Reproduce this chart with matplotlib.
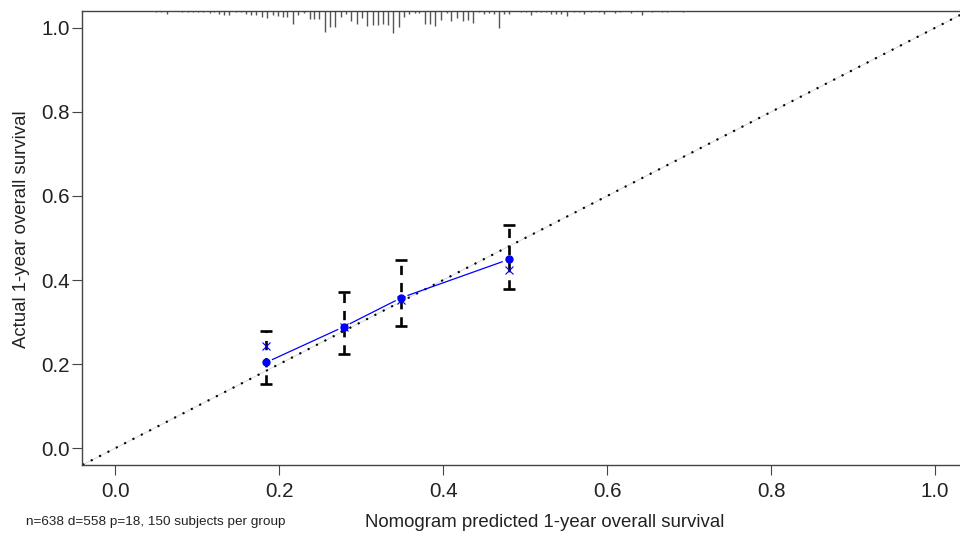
import numpy as np
import matplotlib
matplotlib.use("Agg")
import matplotlib.pyplot as plt

plt.rcParams['font.family'] = ['Liberation Sans', 'DejaVu Sans']

# calibration groups (150 subjects per group)
pred = [0.184, 0.279, 0.349, 0.480]        # mean nomogram predicted survival
observed = [0.204, 0.289, 0.358, 0.449]    # Kaplan-Meier observed survival
corrected = [0.243, 0.289, 0.353, 0.425]   # bias-corrected estimate (x marks)
ci_low = [0.152, 0.225, 0.290, 0.379]
ci_high = [0.279, 0.372, 0.448, 0.531]

# distribution of predicted values (rug at top), relative counts
rug_x = [0.050, 0.056, 0.063, 0.082, 0.089, 0.095, 0.101, 0.107, 0.115, 0.121,
         0.127, 0.133, 0.139, 0.147, 0.153, 0.160, 0.166, 0.172, 0.179, 0.185,
         0.192, 0.198, 0.204, 0.210, 0.217, 0.223, 0.230, 0.237, 0.243, 0.249,
         0.256, 0.262, 0.268, 0.275, 0.281, 0.288, 0.295, 0.301, 0.307, 0.314,
         0.320, 0.327, 0.333, 0.339, 0.346, 0.352, 0.358, 0.365, 0.371, 0.378,
         0.384, 0.390, 0.397, 0.404, 0.410, 0.417, 0.424, 0.430, 0.436, 0.444,
         0.450, 0.456, 0.462, 0.468, 0.474, 0.480, 0.495, 0.501, 0.507, 0.513,
         0.519, 0.525, 0.532, 0.538, 0.544, 0.551, 0.559, 0.566, 0.572, 0.580,
         0.590, 0.596, 0.610, 0.616, 0.629, 0.643, 0.655, 0.667, 0.673, 0.693]
rug_n = [1, 1, 4, 1, 1, 1, 1, 1, 3, 2,
         4, 6, 6, 2, 2, 4, 6, 6, 9, 10,
         6, 7, 8, 9, 18, 6, 3, 12, 12, 12,
         30, 23, 23, 8, 4, 14, 18, 10, 21, 20,
         20, 18, 20, 32, 23, 9, 5, 3, 3, 18,
         18, 21, 13, 3, 14, 10, 14, 13, 17, 2,
         4, 3, 4, 25, 5, 5, 1, 1, 6, 1,
         1, 1, 4, 4, 4, 7, 1, 1, 4, 1,
         1, 5, 3, 1, 3, 6, 1, 1, 2, 1]

ticks = [0.0, 0.2, 0.4, 0.6, 0.8, 1.0]
tick_labels = ["0.0", "0.2", "0.4", "0.6", "0.8", "1.0"]

fig = plt.figure(figsize=(9.6, 5.33), dpi=100)
ax = fig.add_axes([0.0859, 0.1276, 0.9224, 0.8518])
ax.set_xlim(-0.04, 1.04)
ax.set_ylim(-0.04, 1.04)

# ideal line
ax.plot([-0.04, 1.04], [-0.04, 1.04], color="#cccccc", lw=0.5, zorder=1)
ax.plot([-0.04, 1.04], [-0.04, 1.04], color="black", lw=1.5,
        linestyle=(0, (1, 3.5)), zorder=2)

# rug of predicted values hanging from the top
rug_n = np.array(rug_n, dtype=float)
rug_len = rug_n / rug_n.max() * 0.053
ax.vlines(rug_x, 1.04 - rug_len, 1.04, color="#555555", lw=1.0, zorder=2)

# error bars
ax.vlines(pred, ci_low, ci_high, color="black", lw=1.9,
          linestyle=(0, (3.5, 3)), zorder=3)
ax.plot(pred, ci_low, ls="none", marker="_", ms=8, mew=1.9, color="black", zorder=3)
ax.plot(pred, ci_high, ls="none", marker="_", ms=8, mew=1.9, color="black", zorder=3)

# observed line with gaps around points (R type="b")
pts = ax.transData.transform(np.column_stack([pred, observed]))
gap = 7.0
inv = ax.transData.inverted()
for i in range(len(pts) - 1):
    p0, p1 = pts[i], pts[i + 1]
    d = p1 - p0
    u = d / np.hypot(*d)
    seg = inv.transform(np.array([p0 + u * gap, p1 - u * gap]))
    ax.plot(seg[:, 0], seg[:, 1], color="#0000ff", lw=0.9, zorder=4)
ax.plot(pred, observed, ls="none", marker="o", ms=5, color="#0000ff", zorder=5)
ax.plot(pred, corrected, ls="none", marker="x", ms=5.5, mew=0.8, color="#0000ff", zorder=5)

for s in ax.spines.values():
    s.set_color("#444444")
    s.set_linewidth(1.0)

ax.set_xticks(ticks)
ax.set_xticklabels(tick_labels)
ax.set_yticks(ticks)
ax.set_yticklabels(tick_labels)
ax.tick_params(axis="both", length=7, width=0.8, color="#444444",
               labelsize=14.8, labelcolor="#222222")
ax.tick_params(axis="x", pad=5)
ax.tick_params(axis="y", pad=2)

fig.text(0.0229, 0.57, "Actual 1-year overall survival", rotation=90,
         ha="center", va="center", fontsize=13.4, color="#222222")
fig.text(0.567, 0.02, "Nomogram predicted 1-year overall survival",
         ha="center", va="center", fontsize=13.4, color="#222222")
fig.text(0.027, 0.02, "n=638 d=558 p=18, 150 subjects per group",
         ha="left", va="center", fontsize=9.7, color="#222222")

fig.savefig("out.png", dpi=100)
